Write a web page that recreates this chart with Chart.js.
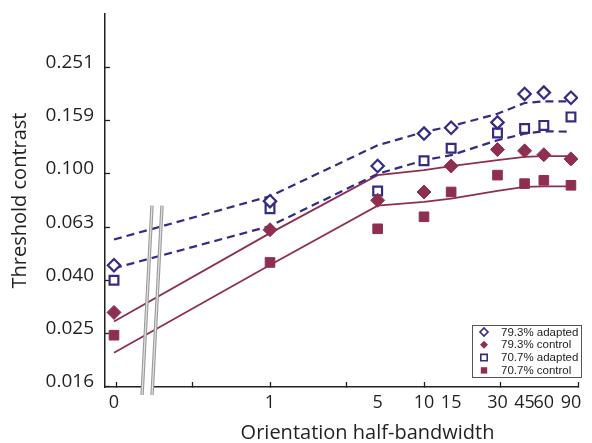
<!DOCTYPE html>
<html>
<head>
<meta charset="utf-8">
<title>Threshold contrast vs orientation half-bandwidth</title>
<script src="https://cdn.jsdelivr.net/npm/chart.js@4.4.0/dist/chart.umd.min.js"></script>
<style>
  html, body { margin: 0; padding: 0; background: #fff; }
  #wrap { width: 592px; height: 443px; }
</style>
</head>
<body>
<div id="wrap"><canvas id="thresholdChart"></canvas></div>
<script>
// orientation half-bandwidth conditions (0 is drawn left of the axis break)
const halfBandwidths = [0, 1, 5, 10, 15, 30, 45, 60, 90];

// measured thresholds
const adapted793 = [0.0454, 0.0790, 0.107, 0.1416, 0.149, 0.156, 0.1995, 0.2018, 0.193];
const control793 = [0.0302, 0.0617, 0.0796, 0.0855, 0.107, 0.1233, 0.122, 0.118, 0.1138];
const adapted707 = [0.0399, 0.0740, 0.0862, 0.112, 0.1247, 0.1424, 0.148, 0.152, 0.1636];
const control707 = [0.0248, 0.0465, 0.0622, 0.069, 0.0855, 0.0989, 0.0919, 0.0946, 0.0906];

// model fits
const fitAdapted793 = [0.0567, 0.0824, 0.128, 0.1436, 0.151, 0.168, 0.1845, 0.187, 0.187];
const fitAdapted707 = [0.0442, 0.0637, 0.100, 0.1125, 0.1175, 0.1337, 0.1415, 0.1445, 0.144];
const fitControl793 = [0.0279, 0.0599, 0.0989, 0.1032, 0.1069, 0.1125, 0.1158, 0.1165, 0.1165];
const fitControl707 = [0.0213, 0.0455, 0.076, 0.0785, 0.0808, 0.0863, 0.0893, 0.0898, 0.0898];

// axes
const xTickLabels = ["0", "1", "5", "10", "15", "30", "45", "60", "90"];
const xTickMarks = [0.1, 0.316, 1, 3.16, 10, 31.6, 100];
const yTickValues = [0.01585, 0.0251, 0.0398, 0.0631, 0.1, 0.1585, 0.2512];
const yTickLabels = ["0.016", "0.025", "0.040", "0.063", "0.100", "0.159", "0.251"];

const ZERO_AT = 0.097;   // where the "0" condition sits on the log axis
const BREAK_AT = 0.16;
const BREAK_TOP = 0.076;

const colors = {
  blue: "#352c82",
  crimson: "#8e2f50",
  axis: "#231f20",
  breakOuter: "#9a9a9a",
  breakInner: "#e2e2e2",
};

const toX = (b) => (b === 0 ? ZERO_AT : b);
const points = (values) => halfBandwidths.map((b, i) => ({ x: toX(b), y: values[i] }));

const labelAt = new Map(halfBandwidths.map((b, i) => [toX(b), xTickLabels[i]]));
const markSet = new Set(xTickMarks);
const yLabelAt = new Map(yTickValues.map((v, i) => [v, yTickLabels[i]]));

function fitLine(values, color, dashed) {
  return {
    type: "line",
    data: points(values),
    borderColor: color,
    borderWidth: dashed ? 2.2 : 1.8,
    borderDash: dashed ? [8, 5] : [],
    pointRadius: 0,
    tension: 0,
    fill: false,
    order: 2,
  };
}

function markers(label, values, style, color, open) {
  return {
    type: "line",
    label,
    data: points(values),
    showLine: false,
    pointStyle: style,
    pointRadius: style === "rect" ? (open ? 6.2 : 6.8) : (open ? 6.2 : 7),
    pointBorderWidth: open ? 2.2 : 1,
    pointBorderColor: color,
    pointBackgroundColor: open ? "#ffffff" : color,
    order: 1,
  };
}

function drawMarker(ctx, style, x, y, r, open, color) {
  ctx.beginPath();
  if (style === "rectRot") {
    ctx.moveTo(x, y - r);
    ctx.lineTo(x + r, y);
    ctx.lineTo(x, y + r);
    ctx.lineTo(x - r, y);
  } else {
    ctx.rect(x - r, y - r, 2 * r, 2 * r);
  }
  ctx.closePath();
  if (open) {
    ctx.fillStyle = "#fff";
    ctx.fill();
    ctx.lineWidth = 1.6;
    ctx.strokeStyle = color;
    ctx.stroke();
  } else {
    ctx.fillStyle = color;
    ctx.fill();
  }
}

const axisBreak = {
  id: "axisBreak",
  afterDatasetsDraw(chart) {
    const { ctx, chartArea, scales } = chart;
    const cx = scales.x.getPixelForValue(BREAK_AT);
    const axisY = chartArea.bottom;
    const top = scales.y.getPixelForValue(BREAK_TOP);
    const bottom = axisY + 8;
    const lean = 10 / 190;
    ctx.save();
    // gap in the axis line between the two strokes
    ctx.fillStyle = "#fff";
    ctx.fillRect(cx - 4, axisY - 2, 8, 4);
    [-5, 5].forEach((off) => {
      const x0 = cx + off + (axisY - bottom) * lean;
      const x1 = cx + off + (axisY - top) * lean;
      ctx.lineCap = "butt";
      ctx.strokeStyle = colors.breakOuter;
      ctx.lineWidth = 3.4;
      ctx.beginPath();
      ctx.moveTo(x0, bottom);
      ctx.lineTo(x1, top);
      ctx.stroke();
      ctx.strokeStyle = colors.breakInner;
      ctx.lineWidth = 1.2;
      ctx.stroke();
    });
    ctx.restore();
  },
};

const boxLegend = {
  id: "boxLegend",
  afterDraw(chart) {
    const { ctx, chartArea } = chart;
    const entries = chart.data.datasets.filter((d) => d.label);
    const w = 109, h = 52;
    const left = chartArea.right + 3 - w;
    const top = chartArea.bottom - 10 - h;
    ctx.save();
    ctx.fillStyle = "#fff";
    ctx.fillRect(left, top, w, h);
    ctx.strokeStyle = "#555";
    ctx.lineWidth = 1;
    ctx.strokeRect(left + 0.5, top + 0.5, w, h);
    ctx.font = "11.5px 'Liberation Sans', Arial, sans-serif";
    ctx.textBaseline = "middle";
    ctx.textAlign = "left";
    entries.forEach((d, i) => {
      const y = top + 7 + i * 12.8;
      const open = d.pointBackgroundColor === "#ffffff";
      const r = d.pointStyle === "rectRot" ? 4 : 3.2;
      drawMarker(ctx, d.pointStyle, left + 12, y, r, open, d.pointBorderColor);
      ctx.fillStyle = "#222";
      ctx.fillText(d.label, left + 29, y + 0.5);
    });
    ctx.restore();
  },
};

const xTitle = {
  id: "xTitle",
  afterDraw(chart) {
    const { ctx, chartArea } = chart;
    ctx.save();
    ctx.font = "20px 'Open Sans', sans-serif";
    ctx.fillStyle = colors.axis;
    ctx.textAlign = "center";
    ctx.textBaseline = "middle";
    ctx.fillText("Orientation half-bandwidth", chartArea.left + chartArea.width * 0.555, chartArea.bottom + 46);
    ctx.restore();
  },
};

new Chart(document.getElementById("thresholdChart"), {
  data: {
    datasets: [
      fitLine(fitAdapted793, colors.blue, true),
      fitLine(fitAdapted707, colors.blue, true),
      fitLine(fitControl793, colors.crimson, false),
      fitLine(fitControl707, colors.crimson, false),
      markers("79.3% adapted", adapted793, "rectRot", colors.blue, true),
      markers("79.3% control", control793, "rectRot", colors.crimson, false),
      markers("70.7% adapted", adapted707, "rect", colors.blue, true),
      markers("70.7% control", control707, "rect", colors.crimson, false),
    ],
  },
  options: {
    animation: false,
    responsive: true,
    maintainAspectRatio: false,
    events: [],
    layout: { padding: { top: 14, right: 14, left: 0, bottom: 0 } },
    plugins: {
      legend: { display: false },
      tooltip: { enabled: false },
    },
    scales: {
      x: {
        type: "logarithmic",
        position: "bottom",
        min: 0.0848,
        max: 100,
        afterFit: (scale) => {
          scale.height = 56;
          scale.paddingLeft = 0;
          scale.paddingRight = 0;
        },
        afterBuildTicks: (scale) => {
          const vals = [...new Set([...labelAt.keys(), ...xTickMarks])].sort((a, b) => a - b);
          scale.ticks = vals.map((value) => ({ value }));
        },
        ticks: {
          autoSkip: false,
          maxRotation: 0,
          padding: 10,
          color: colors.axis,
          font: { family: "'Open Sans', sans-serif", size: 18 },
          callback: (value) => labelAt.get(value) || "",
        },
        grid: {
          drawOnChartArea: false,
          tickLength: -5,
          tickWidth: 1.3,
          tickColor: (ctx) => (ctx.tick && markSet.has(ctx.tick.value) ? colors.axis : "rgba(0,0,0,0)"),
        },
        border: { display: true, color: colors.axis, width: 1.5 },
      },
      y: {
        type: "logarithmic",
        min: 0.015849,
        max: 0.3981,
        afterFit: (scale) => {
          scale.width = 105;
          scale.paddingTop = 0;
          scale.paddingBottom = 0;
        },
        afterBuildTicks: (scale) => {
          scale.ticks = yTickValues.map((value) => ({ value }));
        },
        ticks: {
          autoSkip: false,
          padding: 16,
          labelOffset: -5,
          color: colors.axis,
          font: { family: "'Open Sans', sans-serif", size: 19 },
          callback: (value) => yLabelAt.get(value) || "",
        },
        grid: {
          drawOnChartArea: false,
          tickLength: -5,
          tickWidth: 1.3,
          tickColor: colors.axis,
        },
        border: { display: true, color: colors.axis, width: 1.5 },
        title: {
          display: true,
          text: "Threshold contrast",
          color: colors.axis,
          font: { family: "'Open Sans', sans-serif", size: 20 },
          padding: { top: 8, bottom: 0 },
        },
      },
    },
  },
  plugins: [axisBreak, boxLegend, xTitle],
});
</script>
</body>
</html>
